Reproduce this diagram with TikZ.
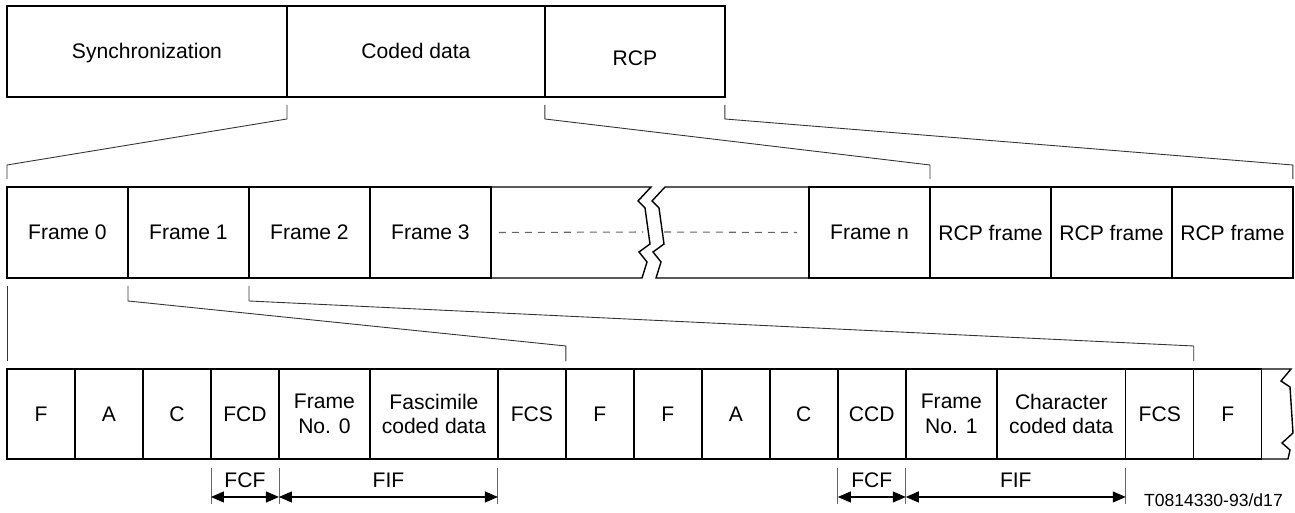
\documentclass[tikz,border=0pt]{standalone}
\usepackage{fontspec}
\setmainfont{Liberation Sans}
\usetikzlibrary{positioning,calc,arrows.meta}

\begin{document}
\begin{tikzpicture}[x=0.02cm, y=-0.02cm,
	cell/.style={draw, line width=0.8pt, inner sep=0pt, outer sep=0pt, minimum height=1.82cm, align=center, font=\fontsize{12}{14}\selectfont},
	bcell/.style={cell, minimum height=1.8cm, minimum width=1.36cm},
	link/.style={draw=black!80, line width=0.5pt},
	ext/.style={draw=black!60, line width=0.5pt},
	dimline/.style={line width=0.6pt, {Triangle[length=0.26cm,width=0.22cm]}-{Triangle[length=0.26cm,width=0.22cm]}},
	lbl/.style={font=\fontsize{12}{14}\selectfont}]
	\useasboundingbox (0,0) rectangle (1295,513);
	% Top row:
	\node[cell, anchor=north west, minimum width=5.6cm, text height=8pt, text depth=0pt] (sync) at (7,6) {Synchronization};
	\node[cell, minimum width=5.16cm, text height=8pt, text depth=0pt, right=0pt of sync] (coded) {Coded data};
	\node[cell, minimum width=3.6cm, text height=15.4pt, text depth=0pt, right=0pt of coded] (rcp) {RCP};
	% Middle row:
	\node[cell, anchor=north west, minimum width=2.42cm] (fr0) at (7,187) {Frame 0};
	\node[cell, minimum width=2.42cm, right=0pt of fr0] (fr1) {Frame 1};
	\node[cell, minimum width=2.42cm, right=0pt of fr1] (fr2) {Frame 2};
	\node[cell, minimum width=2.42cm, right=0pt of fr2] (fr3) {Frame 3};
	\node[cell, anchor=north west, minimum width=2.42cm] (frn) at (809,187) {Frame n};
	\node[cell, minimum width=2.42cm, right=0pt of frn] (rcpa) {RCP frame};
	\node[cell, minimum width=2.42cm, right=0pt of rcpa] (rcpb) {RCP frame};
	\node[cell, minimum width=2.42cm, right=0pt of rcpb] (rcpc) {RCP frame};
	\draw[line width=0.8pt] (fr3.north east) -- (651,187) -- (638,201) -- (645,208) -- (650,244) -- (639,252) -- (647,262) -- (642,278) -- (fr3.south east);
	\draw[line width=0.8pt] (frn.north west) -- (665,187) -- (652,201) -- (659,208) -- (664,244) -- (653,252) -- (661,262) -- (656,278) -- (frn.south west);
	\draw[black!60, line width=0.6pt, dash pattern=on 0.14cm off 0.12cm] ($(fr3.east)+(8,0)$) -- (643,232);
	\draw[black!60, line width=0.6pt, dash pattern=on 0.14cm off 0.12cm] (664,232) -- ($(frn.west)+(-12,0)$);
	% Bottom row:
	\node[bcell, anchor=north west] (f1) at (7,369) {F};
	\node[bcell, right=0pt of f1] (a1) {A};
	\node[bcell, right=0pt of a1] (c1) {C};
	\node[bcell, right=0pt of c1] (fcd) {FCD};
	\node[bcell, minimum width=1.82cm, right=0pt of fcd] (no0) {Frame\\No. 0};
	\node[bcell, minimum width=2.56cm, right=0pt of no0] (fax) {Fascimile\\coded data};
	\node[bcell, right=0pt of fax] (fcsa) {FCS};
	\node[bcell, right=0pt of fcsa] (f2) {F};
	\node[bcell, right=0pt of f2] (f3) {F};
	\node[bcell, right=0pt of f3] (a2) {A};
	\node[bcell, right=0pt of a2] (c2) {C};
	\node[bcell, right=0pt of c2] (ccd) {CCD};
	\node[bcell, minimum width=1.82cm, right=0pt of ccd] (no1) {Frame\\No. 1};
	\node[bcell, minimum width=2.58cm, right=0pt of no1] (chr) {Character\\coded data};
	\node[bcell, right=0pt of chr] (fcsb) {FCS};
	\node[bcell, right=0pt of fcsb] (f4) {F};
	\draw[line width=0.8pt] (f4.north east) -- (1291,369) -- (1281,381) -- (1290,387) -- (1293,433) -- (1282,443) -- (1290,450) -- (1288,459) -- (f4.south east);
	% Expansion lines:
	\draw[link] ($(sync.south east)+(0,8)$) -- ++(0,14) -- ($(fr0.north west)+(0,-22)$) -- ++(0,14);
	\draw[link] ($(coded.south east)+(0,8)$) -- ++(0,14) -- ($(rcpa.north west)+(0,-22)$) -- ++(0,14);
	\draw[link] ($(rcp.south east)+(0,8)$) -- ++(0,14) -- ($(rcpc.north east)+(0,-22)$) -- ++(0,14);
	\draw[link] ($(fr0.south west)+(0,8)$) -- ($(f1.north west)+(0,-8)$);
	\draw[link] ($(fr1.south west)+(0,8)$) -- ++(0,15) -- ($(fcsa.north east)+(0,-23)$) -- ++(0,15);
	\draw[link] ($(fr2.south west)+(0,8)$) -- ++(0,15) -- ($(fcsb.north east)+(0,-23)$) -- ++(0,15);
	% FCF and FIF:
	\foreach \n in {fcd, no0, fcsa, ccd, no1, fcsb}
		\draw[ext] ($(\n.south west)+(0,9)$) -- ++(0,36);
	\draw[dimline] ($(fcd.south west)+(0,38)$) -- node[lbl, yshift=0.34cm] (fcfa) {FCF} ($(fcd.south east)+(0,38)$);
	\draw[dimline] ($(no0.south west)+(0,38)$) -- node[lbl, yshift=0.34cm] (fifa) {FIF} ($(fax.south east)+(0,38)$);
	\draw[dimline] ($(ccd.south west)+(0,38)$) -- node[lbl, yshift=0.34cm] (fcfb) {FCF} ($(ccd.south east)+(0,38)$);
	\draw[dimline] ($(no1.south west)+(0,38)$) -- node[lbl, yshift=0.34cm] (fifb) {FIF} ($(chr.south east)+(0,38)$);
	\node[anchor=east, font=\fontsize{10}{12}\selectfont] (ref) at (1289,500) {T0814330-93/d17};
\end{tikzpicture}
\end{document}
